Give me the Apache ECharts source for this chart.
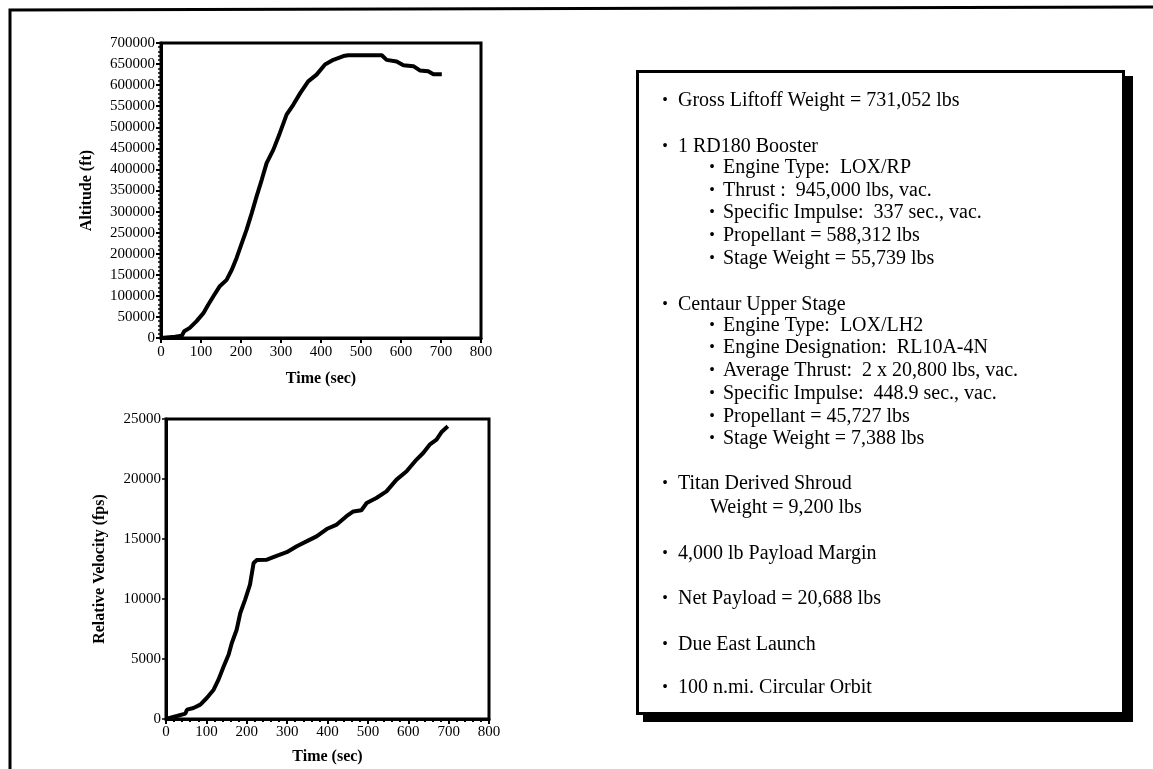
<!DOCTYPE html>
<html>
<head>
<meta charset="utf-8">
<script src="https://cdn.jsdelivr.net/npm/echarts@6/dist/echarts.min.js"></script>
<style>
  html, body { margin: 0; padding: 0; background: #fff; }
  #chart { width: 1153px; height: 769px; }
</style>
</head>
<body>
<div id="chart"></div>
<script>
// Ascent trajectory: altitude vs time
const altTime = [0, 35, 52, 58, 72, 89, 106, 118, 131, 147, 164, 177, 189, 202, 214, 227, 239, 252, 264, 281, 297, 314, 331, 348, 368, 389, 410, 431, 456, 468, 552, 564, 589, 606, 631, 647, 668, 681, 702];
const altValue = [0, 3000, 5500, 16000, 24000, 40000, 59000, 79000, 99000, 123000, 138000, 162000, 190000, 225000, 257000, 297000, 336000, 376000, 415000, 447000, 486000, 530000, 554000, 581000, 609000, 625000, 649000, 660000, 669000, 671000, 671000, 660000, 656000, 647000, 645000, 635000, 633000, 626000, 626000];

// Relative velocity vs time
const velTime = [0, 27, 48, 52, 68, 85, 101, 118, 130, 143, 155, 163, 175, 184, 196, 208, 217, 225, 250, 274, 299, 324, 348, 373, 398, 423, 447, 464, 484, 497, 521, 546, 571, 596, 620, 637, 653, 670, 682, 698];
const velValue = [0, 250, 450, 780, 920, 1200, 1750, 2440, 3280, 4390, 5360, 6330, 7440, 8830, 9950, 11200, 13000, 13250, 13280, 13600, 13900, 14400, 14800, 15220, 15830, 16200, 16900, 17300, 17400, 18000, 18420, 18970, 19950, 20640, 21600, 22170, 22860, 23280, 23890, 24390];

// Vehicle summary, [indent level, text, baseline row]; level 2 = continuation line without bullet
const notes = [
  [0, 'Gross Liftoff Weight = 731,052 lbs', 101],
  [0, '1 RD180 Booster', 147],
  [1, 'Engine Type:  LOX/RP', 168],
  [1, 'Thrust :  945,000 lbs, vac.', 191],
  [1, 'Specific Impulse:  337 sec., vac.', 213],
  [1, 'Propellant = 588,312 lbs', 236],
  [1, 'Stage Weight = 55,739 lbs', 259],
  [0, 'Centaur Upper Stage', 305],
  [1, 'Engine Type:  LOX/LH2', 326],
  [1, 'Engine Designation:  RL10A-4N', 348],
  [1, 'Average Thrust:  2 x 20,800 lbs, vac.', 371],
  [1, 'Specific Impulse:  448.9 sec., vac.', 394],
  [1, 'Propellant = 45,727 lbs', 417],
  [1, 'Stage Weight = 7,388 lbs', 439],
  [0, 'Titan Derived Shroud', 484],
  [2, 'Weight = 9,200 lbs', 508],
  [0, '4,000 lb Payload Margin', 554],
  [0, 'Net Payload = 20,688 lbs', 599],
  [0, 'Due East Launch', 645],
  [0, '100 n.mi. Circular Orbit', 688]
];

const serif = '"Liberation Serif", "DejaVu Serif", serif';
const chart = echarts.init(document.getElementById('chart'), null, { renderer: 'canvas' });

function zip(xs, ys) { return xs.map((x, i) => [x, ys[i]]); }

const noteGraphics = [];
notes.forEach(([lvl, txt, y]) => {
  const bulletX = lvl === 0 ? 665 : 712;
  const textX = lvl === 0 ? 678 : (lvl === 1 ? 723 : 710);
  if (lvl !== 2) {
    noteGraphics.push({ type: 'text', x: bulletX, y: y, z: 10,
      style: { text: '\u2022', fill: '#000', font: '16px ' + serif, textAlign: 'center', textVerticalAlign: 'middle' } });
  }
  noteGraphics.push({ type: 'text', x: textX, y: y, z: 10,
    style: { text: txt, fill: '#000', font: '20px ' + serif, textAlign: 'left', textVerticalAlign: 'middle' } });
});

const axisText = { color: '#000', fontFamily: serif, fontSize: 15 };
const nameText = { color: '#000', fontFamily: serif, fontSize: 16, fontWeight: 'bold' };

chart.setOption({
  animation: false,
  backgroundColor: '#fff',
  grid: [
    { left: 161, top: 43, width: 320, height: 295, show: true, borderColor: '#000', borderWidth: 3, backgroundColor: 'transparent' },
    { left: 166, top: 419, width: 323, height: 300, show: true, borderColor: '#000', borderWidth: 3, backgroundColor: 'transparent' }
  ],
  xAxis: [
    { gridIndex: 0, type: 'value', min: 0, max: 800, interval: 100,
      name: 'Time (sec)', nameLocation: 'middle', nameGap: 33, nameTextStyle: nameText,
      axisLine: { show: true, lineStyle: { color: '#000', width: 3 } },
      axisTick: { show: true, length: 5, lineStyle: { color: '#000', width: 2 } },
      axisLabel: { ...axisText, margin: 7 },
      splitLine: { show: false } },
    { gridIndex: 1, type: 'value', min: 0, max: 800, interval: 100,
      name: 'Time (sec)', nameLocation: 'middle', nameGap: 30, nameTextStyle: nameText,
      axisLine: { show: true, lineStyle: { color: '#000', width: 3 } },
      axisTick: { show: true, length: 5, lineStyle: { color: '#000', width: 2 } },
      minorTick: { show: true, splitNumber: 5, length: 3, lineStyle: { color: '#000', width: 2 } },
      axisLabel: { ...axisText, margin: 6 },
      splitLine: { show: false } }
  ],
  yAxis: [
    { gridIndex: 0, type: 'value', min: 0, max: 700000, interval: 50000,
      name: 'Altitude (ft)', nameLocation: 'middle', nameGap: 66, nameRotate: 90, nameTextStyle: nameText,
      axisLine: { show: true, lineStyle: { color: '#000', width: 3 } },
      axisTick: { show: true, length: 5, lineStyle: { color: '#000', width: 2 } },
      minorTick: { show: true, splitNumber: 5, length: 3, lineStyle: { color: '#000', width: 1.5 } },
      axisLabel: { ...axisText, margin: 6, formatter: v => String(v) },
      splitLine: { show: false } },
    { gridIndex: 1, type: 'value', min: 0, max: 25000, interval: 5000,
      name: 'Relative Velocity (fps)', nameLocation: 'middle', nameGap: 58, nameRotate: 90, nameTextStyle: nameText,
      axisLine: { show: true, lineStyle: { color: '#000', width: 3 } },
      axisTick: { show: true, length: 4, lineStyle: { color: '#000', width: 1.5 } },
      axisLabel: { ...axisText, margin: 5, formatter: v => String(v) },
      splitLine: { show: false } }
  ],
  series: [
    { type: 'line', xAxisIndex: 0, yAxisIndex: 0, data: zip(altTime, altValue),
      showSymbol: false, symbol: 'none', lineStyle: { color: '#000', width: 4 }, z: 3 },
    { type: 'line', xAxisIndex: 1, yAxisIndex: 1, data: zip(velTime, velValue),
      showSymbol: false, symbol: 'none', lineStyle: { color: '#000', width: 4 }, z: 3 }
  ],
  graphic: [
    // outer page frame (top and left edges)
    { type: 'polyline', z: 5, shape: { points: [[10, 769], [10, 10], [1153, 7]] },
      style: { stroke: '#000', lineWidth: 3, fill: null } },
    // notes panel drop shadow
    { type: 'rect', z: 5, shape: { x: 643, y: 76, width: 490, height: 646 },
      style: { fill: '#000' } },
    // notes panel
    { type: 'rect', z: 6, shape: { x: 637.5, y: 71.5, width: 486, height: 642 },
      style: { fill: '#fff', stroke: '#000', lineWidth: 3 } },
    ...noteGraphics
  ]
});
</script>
</body>
</html>
